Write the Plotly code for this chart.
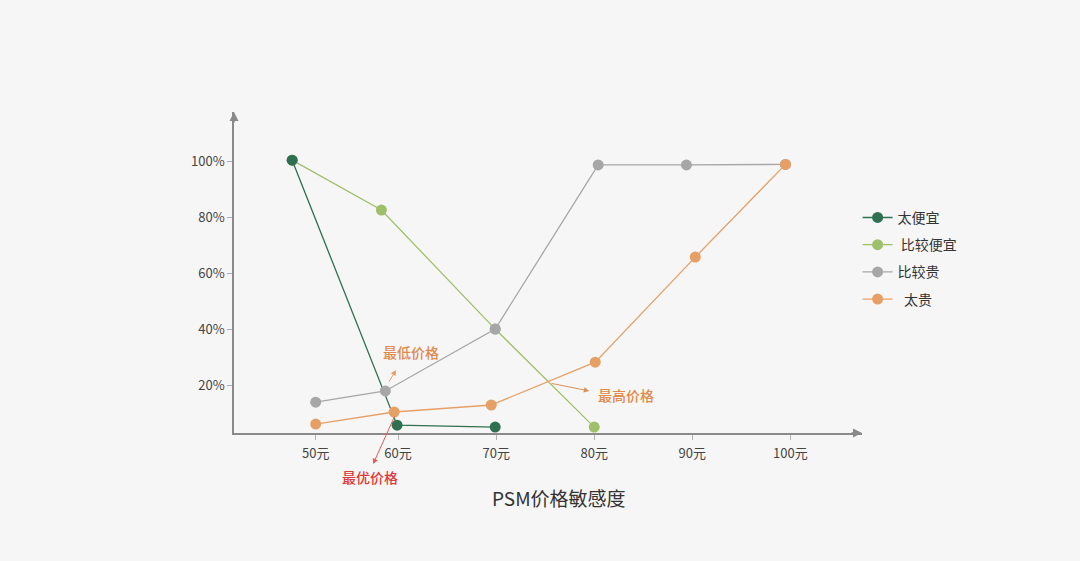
import plotly.graph_objects as go

# Price positions (in 元) and shares (%)
tick_vals = [51.6, 60, 70, 80, 90, 100]
tick_text = ["50元", "60元", "70元", "80元", "90元", "100元"]
y_tick_vals = [20, 40, 60, 80, 100]
y_tick_text = ["20%", "40%", "60%", "80%", "100%"]

too_cheap_x = [49.2, 59.9, 69.9]
too_cheap_y = [100.3, 5.7, 5.0]

cheap_x = [49.2, 58.3, 69.9, 80.0]
cheap_y = [100.3, 82.5, 40.0, 5.0]

expensive_x = [51.6, 58.7, 69.9, 80.4, 89.4, 99.5]
expensive_y = [13.9, 17.9, 40.0, 98.6, 98.6, 98.8]

too_exp_x = [51.6, 59.6, 69.5, 80.1, 90.3, 99.5]
too_exp_y = [6.1, 10.4, 12.9, 28.2, 65.7, 98.8]

names = ["太便宜", " 比较便宜", "比较贵", "  太贵"]
colors = ["#2e7050", "#9fc06a", "#a7a7a7", "#e6a066"]

fig = go.Figure()
series = [(too_cheap_x, too_cheap_y), (cheap_x, cheap_y),
          (expensive_x, expensive_y), (too_exp_x, too_exp_y)]
order = [1, 0, 2, 3]  # draw light green under dark green
traces = []
for i, (xs, ys) in enumerate(series):
    traces.append(go.Scatter(
        x=xs, y=ys, name=names[i], mode="lines+markers",
        line=dict(color=colors[i], width=1.3),
        marker=dict(color=colors[i], size=11),
        legendgroup=str(i), legendrank=i + 1,
        hoverinfo="skip"))
for i in order:
    fig.add_trace(traces[i])

axis_col = "#8a8a8a"
fig.update_layout(
    width=1080, height=561,
    paper_bgcolor="#f6f6f6", plot_bgcolor="#f6f6f6",
    margin=dict(l=234, r=218, t=112, b=128),
    font=dict(family="Noto Sans CJK SC, Noto Sans, sans-serif", color="#444"),
    showlegend=True,
    legend=dict(x=0.993, y=0.72, xanchor="left", yanchor="top",
                bgcolor="rgba(0,0,0,0)", font=dict(size=14, color="#333"),
                tracegroupgap=6, traceorder="grouped"),
    xaxis=dict(range=[43.27, 107.3], tickvals=tick_vals, ticktext=tick_text,
               showgrid=False, zeroline=False, showline=True, linecolor=axis_col,
               linewidth=1.5, ticks="outside", ticklen=5, tickcolor="#b0b0b0",
               ticklabelstandoff=3,
               tickfont=dict(size=13, color="#444")),
    yaxis=dict(range=[2.9, 117.5], tickvals=y_tick_vals, ticktext=y_tick_text,
               showgrid=False, zeroline=False, showline=True, linecolor=axis_col,
               linewidth=1.5, ticks="outside", ticklen=5, tickcolor="#a9a9d0",
               tickfont=dict(size=13, color="#444")),
)

# axis arrow heads
fig.add_annotation(x=1, y=0, xref="paper", yref="paper", ax=-12, ay=0,
                   text="", showarrow=True, arrowhead=2, arrowsize=1.2,
                   arrowwidth=1.5, arrowcolor=axis_col)
fig.add_annotation(x=0, y=1, xref="paper", yref="paper", ax=0, ay=12,
                   text="", showarrow=True, arrowhead=2, arrowsize=1.2,
                   arrowwidth=1.5, arrowcolor=axis_col)

orange_txt = "#e08a4c"
red_txt = "#e0383a"
# 最低价格
fig.add_annotation(x=59.8, y=25.4, ax=58.98, ay=20.7, axref="x", ayref="y",
                   text="", showarrow=True, arrowhead=2, arrowsize=1.1,
                   arrowwidth=1, arrowcolor="#e6a066")
fig.add_annotation(x=61.3, y=31.8, text="最低价格", showarrow=False,
                   font=dict(size=14, color=orange_txt, weight=500))
# 最高价格
fig.add_annotation(x=79.5, y=17.9, ax=75.5, ay=20.7, axref="x", ayref="y",
                   text="", showarrow=True, arrowhead=2, arrowsize=1.1,
                   arrowwidth=1, arrowcolor="#d9905a")
fig.add_annotation(x=83.2, y=16.4, text="最高价格", showarrow=False,
                   font=dict(size=14, color=orange_txt, weight=500))
# 最优价格
fig.add_annotation(x=57.45, y=-8.2, ax=59.7, ay=9.3, axref="x", ayref="y",
                   text="", showarrow=True, arrowhead=2, arrowsize=1.1,
                   arrowwidth=1, arrowcolor="#e85a5a")
fig.add_annotation(x=57.1, y=-0.137, yref="paper", yanchor="middle",
                   text="最优价格", showarrow=False,
                   font=dict(size=14, color=red_txt, weight=500))

# axis title
fig.add_annotation(x=0.518, y=-0.205, xref="paper", yref="paper", yshift=-14,
                   text="PSM价格敏感度", showarrow=False,
                   font=dict(size=19, color="#333"))

fig.write_html("out.html", config={"displayModeBar": False},
               post_script="document.body.style.margin='0';document.body.style.background='#f6f6f6';")
